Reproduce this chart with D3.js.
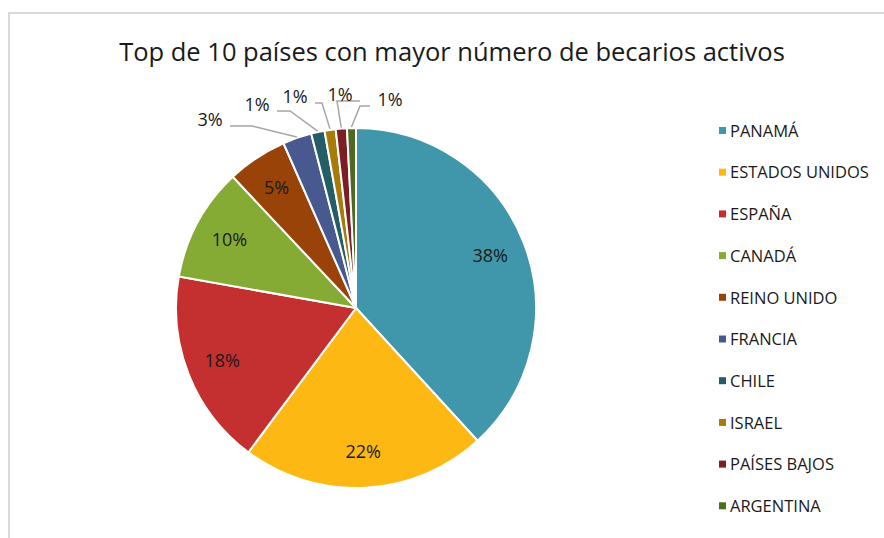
<!DOCTYPE html>
<html>
<head>
<meta charset="utf-8">
<title>becarios</title>
<script src="https://cdn.jsdelivr.net/npm/d3@7"></script>
<style>
	body, html{
		margin: 0;
		padding: 0;
		background: #fff;
		overflow: hidden;
	}
	svg text{
		font-family: 'Open Sans', sans-serif;
		fill: #1a1a1a;
	}
</style>
</head>
<body>
<svg id="chart" width="884" height="538"></svg>
<script>
	var countries = ['PANAMÁ', 'ESTADOS UNIDOS', 'ESPAÑA', 'CANADÁ', 'REINO UNIDO',
		'FRANCIA', 'CHILE', 'ISRAEL', 'PAÍSES BAJOS', 'ARGENTINA'];
	var shares = [38.2, 22.0, 17.6, 10.2, 5.4, 2.6, 1.2, 1.0, 1.0, 0.8];
	var colors = ['#4096ab', '#fdb813', '#c4302f', '#86ab35', '#9a4309',
		'#48598f', '#235e68', '#a67b0a', '#7d1e24', '#4f6b22'];
	var title = 'Top de 10 países con mayor número de becarios activos';

	var svg = d3.select('#chart'),
		cx = 356, cy = 308, radius = 180;

	// chart frame (light grey, cut off at right and bottom)
	svg.append('path')
		.attr('d', 'M9,538 V13 H884')
		.attr('fill', 'none')
		.attr('stroke', '#d9d9d9')
		.attr('stroke-width', 2);

	svg.append('text')
		.attr('x', 452)
		.attr('y', 61)
		.attr('text-anchor', 'middle')
		.style('font-size', '25.5px')
		.text(title);

	var data = countries.map(function(c, i){ return {name: c, value: shares[i], color: colors[i]}; });
	var total = d3.sum(shares);
	var pct = function(v){ return d3.format('.0f')(v / total * 100) + '%'; };

	var pie = d3.pie().sort(null).value(function(d){ return d.value; });
	var arc = d3.arc().innerRadius(0).outerRadius(radius);
	var labelArc = d3.arc().innerRadius(radius * 0.8).outerRadius(radius * 0.8);
	var arcs = pie(data);

	var g = svg.append('g').attr('transform', 'translate(' + cx + ',' + cy + ')');

	g.selectAll('path.slice')
		.data(arcs)
		.enter().append('path')
		.attr('class', 'slice')
		.attr('d', arc)
		.attr('fill', function(d){ return d.data.color; })
		.attr('stroke', '#fff')
		.attr('stroke-width', 2);

	// big slices get labels inside
	var inside = arcs.filter(function(d){ return d.data.value >= 4; });
	g.selectAll('text.inlabel')
		.data(inside)
		.enter().append('text')
		.attr('class', 'inlabel')
		.attr('transform', function(d){ return 'translate(' + labelArc.centroid(d) + ')'; })
		.attr('text-anchor', 'middle')
		.attr('dy', '0.35em')
		.style('font-size', '18px')
		.text(function(d){ return pct(d.data.value); });

	// small slices: labels outside with leader lines
	var outside = arcs.filter(function(d){ return d.data.value < 4; });
	var outPos = [[-146, -188], [-99, -203], [-61, -211], [-16, -213], [34, -208]];
	var elbowX = [-104, -66, -34, -19, 4];

	outside.forEach(function(d, i){
		var a = (d.startAngle + d.endAngle) / 2,
			px = Math.sin(a) * (radius + 1),
			py = -Math.cos(a) * (radius + 1),
			lx = outPos[i][0], ly = outPos[i][1],
			ex = elbowX[i], ey = ly + 6,
			tx = i === 4 ? lx - 20 : lx + 20;

		g.append('polyline')
			.attr('points', [[px, py], [ex, ey], [tx, ey]].map(function(p){ return p.join(','); }).join(' '))
			.attr('fill', 'none')
			.attr('stroke', '#a6a6a6')
			.attr('stroke-width', 1.5);

		g.append('text')
			.attr('x', lx)
			.attr('y', ly)
			.attr('text-anchor', 'middle')
			.attr('dy', '0.35em')
			.style('font-size', '18px')
			.text(pct(d.data.value));
	});

	// legend
	var legend = svg.append('g').attr('transform', 'translate(719,131)');
	var row = legend.selectAll('g')
		.data(data)
		.enter().append('g')
		.attr('transform', function(d, i){ return 'translate(0,' + (i * 41.7) + ')'; });
	row.append('rect')
		.attr('x', 0).attr('y', -4)
		.attr('width', 7).attr('height', 7)
		.attr('fill', function(d){ return d.color; });
	row.append('text')
		.attr('x', 11)
		.attr('dy', '0.35em')
		.style('font-size', '16.5px')
		.text(function(d){ return d.name; });
</script>
</body>
</html>
